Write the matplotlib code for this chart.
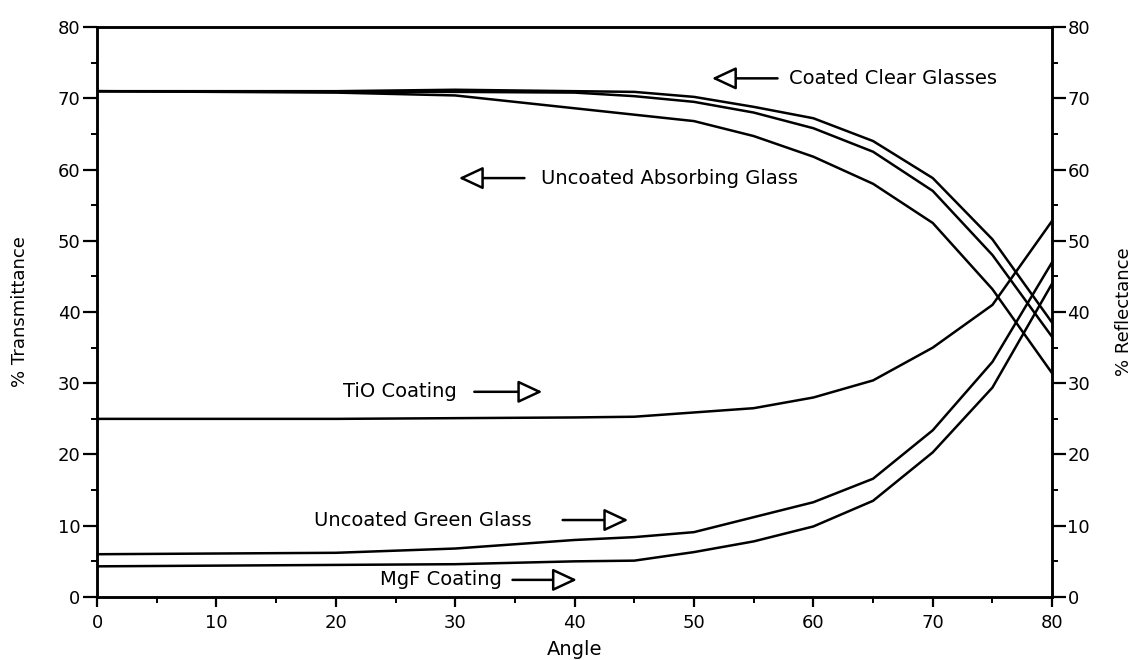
import matplotlib
matplotlib.use("Agg")
import matplotlib.pyplot as plt
from matplotlib.ticker import MultipleLocator

plt.rcParams['font.family'] = ['DejaVu Sans']

angle = [0, 20, 30, 40, 45, 50, 55, 60, 65, 70, 75, 80]

# % transmittance (left axis)
clear_top = [71, 71, 71.2, 71, 70.9, 70.2, 68.8, 67.2, 64, 58.8, 50.2, 38.5]
clear_mid = [71, 70.9, 70.9, 70.8, 70.3, 69.5, 68, 65.8, 62.5, 57, 48, 36.5]
absorbing = [71, 70.8, 70.4, 68.6, 67.7, 66.8, 64.7, 61.8, 58, 52.5, 43.2, 31.4]

# % reflectance (right axis)
tio = [25, 25, 25.1, 25.2, 25.3, 25.9, 26.5, 28, 30.4, 35, 41, 52.8]
green = [6.0, 6.2, 6.8, 8, 8.4, 9.1, 11.2, 13.3, 16.6, 23.4, 33, 47]
mgf = [4.3, 4.5, 4.6, 5.0, 5.1, 6.3, 7.8, 9.9, 13.5, 20.3, 29.4, 44]

# label text, text position, arrow tail, arrow tip
notes = [
    ("Coated Clear Glasses", (58.0, 72.8), (57.0, 72.8), (51.5, 72.8)),
    ("Uncoated Absorbing Glass", (37.2, 58.8), (35.8, 58.8), (30.3, 58.8)),
    ("TiO Coating", (20.6, 28.8), (31.6, 28.8), (37.3, 28.8)),
    ("Uncoated Green Glass", (18.2, 10.8), (39.0, 10.8), (44.5, 10.8)),
    ("MgF Coating", (23.7, 2.4), (34.8, 2.4), (40.2, 2.4)),
]

fig = plt.figure(figsize=(11.35, 6.6), dpi=100)
ax = fig.add_axes([0.0855, 0.0955, 0.8415, 0.8635])
ax2 = ax.twinx()

for y in (clear_top, clear_mid, absorbing):
    ax.plot(angle, y, color='black', lw=1.8)
for y in (tio, green, mgf):
    ax2.plot(angle, y, color='black', lw=1.8)

for a in (ax, ax2):
    a.set_xlim(0, 80)
    a.set_ylim(0, 80)
    a.yaxis.set_major_locator(MultipleLocator(10))
    a.yaxis.set_minor_locator(MultipleLocator(5))
    for s in a.spines.values():
        s.set_linewidth(1.8)
ax.xaxis.set_major_locator(MultipleLocator(10))
ax.xaxis.set_minor_locator(MultipleLocator(5))
ax.tick_params(axis='y', which='major', direction='out', length=10, width=1.6, labelsize=13, pad=2)
ax.tick_params(axis='x', which='major', direction='out', length=7, width=1.6, labelsize=13, pad=5)
ax.tick_params(which='minor', direction='out', length=4, width=1.4)
ax2.tick_params(which='major', direction='out', length=10, width=1.6, labelsize=13, pad=1)
ax2.tick_params(which='minor', direction='out', length=4, width=1.4)

ax.set_xlabel("Angle", fontsize=14, labelpad=6)
ax.set_ylabel("% Transmittance", fontsize=13)
ax.yaxis.set_label_coords(-0.071, 0.5)
ax2.set_ylabel("% Reflectance", fontsize=13)
ax2.yaxis.set_label_coords(1.066, 0.5)

for text, tpos, tail, tip in notes:
    ax.text(tpos[0], tpos[1], text, fontsize=14, ha='left', va='center')
    ax.annotate("", xy=tip, xytext=tail,
                arrowprops=dict(arrowstyle="-|>,head_length=1.5,head_width=0.7",
                                fc='white', ec='black', lw=1.8, shrinkA=0, shrinkB=0))

fig.savefig("out.png", dpi=100)
